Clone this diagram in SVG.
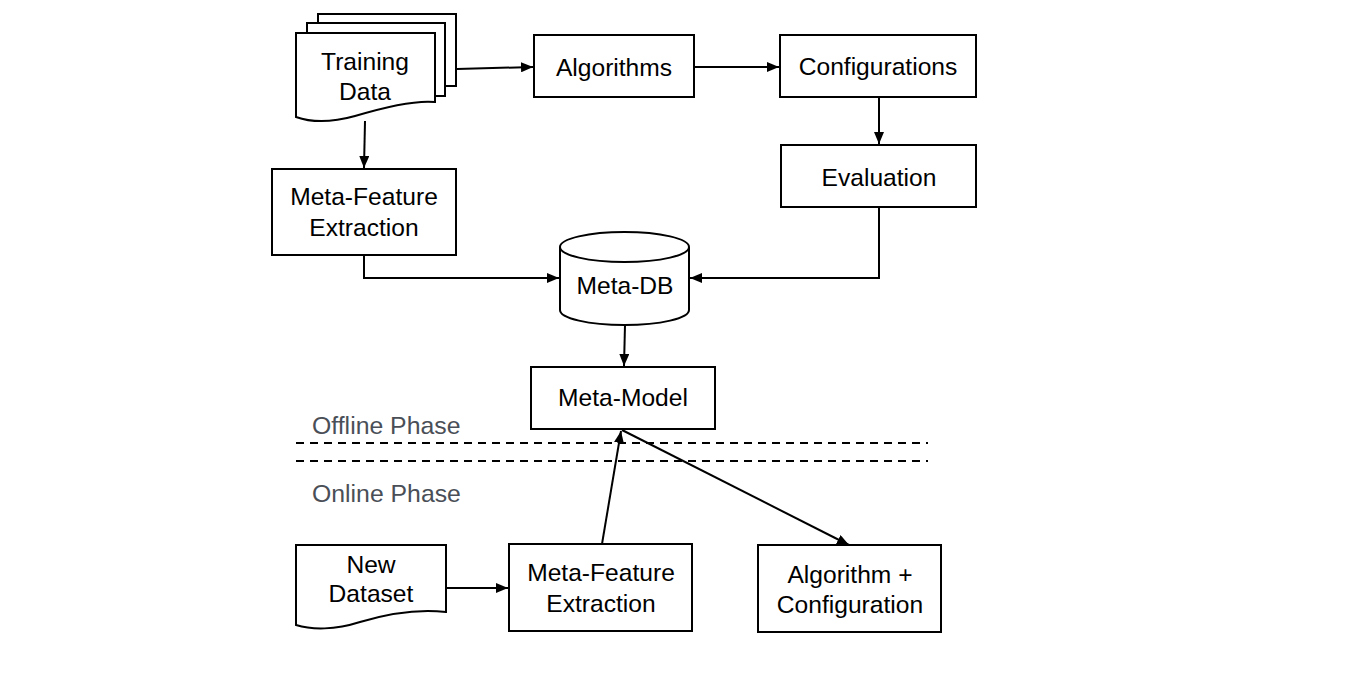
<svg xmlns="http://www.w3.org/2000/svg" width="1352" height="685" viewBox="0 0 1352 685">
<defs>
<style>
.s{fill:#fff;stroke:#000;stroke-width:2}
.t{font-family:"Liberation Sans",Arial,sans-serif;font-size:24.6px;fill:#000;text-anchor:middle}
.p{font-family:"Liberation Sans",Arial,sans-serif;font-size:24.8px;fill:#4a4f57}
.c{fill:none;stroke:#000;stroke-width:2}
.d{fill:none;stroke:#000;stroke-width:2;stroke-dasharray:8 6}
</style>
<marker id="a" viewBox="0 0 12 10" refX="12" refY="5" markerWidth="12" markerHeight="10" markerUnits="userSpaceOnUse" orient="auto">
<path d="M0,0 L12,5 L0,10 Z" fill="#000"/>
</marker>
</defs>
<rect width="1352" height="685" fill="#fff"/>
<g id="connectors">
<line class="c" x1="457" y1="69" x2="533" y2="67" marker-end="url(#a)"/>
<line class="c" x1="695" y1="67" x2="779" y2="67" marker-end="url(#a)"/>
<line class="c" x1="879" y1="97" x2="879" y2="144" marker-end="url(#a)"/>
<line class="c" x1="365" y1="121" x2="364" y2="168" marker-end="url(#a)"/>
<polyline class="c" points="364,255 364,278 559,278" marker-end="url(#a)"/>
<polyline class="c" points="879,207 879,278 690,278" marker-end="url(#a)"/>
<line class="c" x1="625" y1="325" x2="624" y2="366" marker-end="url(#a)"/>
<line class="c" x1="446" y1="588" x2="508" y2="588" marker-end="url(#a)"/>
<line class="c" x1="602" y1="544" x2="621" y2="431" marker-end="url(#a)"/>
<line class="c" x1="622" y1="430" x2="849" y2="545" marker-end="url(#a)"/>
<line class="d" x1="296" y1="443" x2="928" y2="443"/>
<line class="d" x1="296" y1="461" x2="928" y2="461"/>
</g>
<g id="training-data">
<rect class="s" x="318" y="14" width="138" height="72"/>
<rect class="s" x="307" y="23" width="138" height="73"/>
<path class="s" d="M296,33 H435 V102 C415,100 385,107 355,116 C330,123 310,122 296,117 Z"/>
<text class="t" x="365" y="70">Training</text>
<text class="t" x="365" y="100">Data</text>
</g>
<g id="algorithms">
<rect class="s" x="534" y="35" width="160" height="62"/>
<text class="t" x="614" y="76">Algorithms</text>
</g>
<g id="configurations">
<rect class="s" x="780" y="35" width="196" height="62"/>
<text class="t" x="878" y="75">Configurations</text>
</g>
<g id="evaluation">
<rect class="s" x="781" y="145" width="195" height="62"/>
<text class="t" x="879" y="186">Evaluation</text>
</g>
<g id="meta-feature-extraction-1">
<rect class="s" x="272" y="169" width="184" height="86"/>
<text class="t" x="364" y="205">Meta-Feature</text>
<text class="t" x="364" y="236">Extraction</text>
</g>
<g id="meta-db">
<path class="s" d="M560,247 A64.5,15 0 0 1 689,247 V310 A64.5,15 0 0 1 560,310 Z"/>
<path class="c" d="M560,247 A64.5,15 0 0 0 689,247"/>
<text class="t" x="625" y="294">Meta-DB</text>
</g>
<g id="meta-model">
<rect class="s" x="531" y="367" width="184" height="62"/>
<text class="t" x="623" y="406">Meta-Model</text>
</g>
<g id="phase-labels">
<text class="p" x="312" y="434">Offline Phase</text>
<text class="p" x="312" y="502">Online Phase</text>
</g>
<g id="new-dataset">
<path class="s" d="M296,545 H446 V612 C420,609 390,613 360,622 C335,630 312,630 296,625 Z"/>
<text class="t" x="371" y="573">New</text>
<text class="t" x="371" y="602">Dataset</text>
</g>
<g id="meta-feature-extraction-2">
<rect class="s" x="509" y="544" width="183" height="87"/>
<text class="t" x="601" y="581">Meta-Feature</text>
<text class="t" x="601" y="612">Extraction</text>
</g>
<g id="algorithm-configuration">
<rect class="s" x="758" y="545" width="183" height="87"/>
<text class="t" x="850" y="583">Algorithm +</text>
<text class="t" x="850" y="613">Configuration</text>
</g>
</svg>
